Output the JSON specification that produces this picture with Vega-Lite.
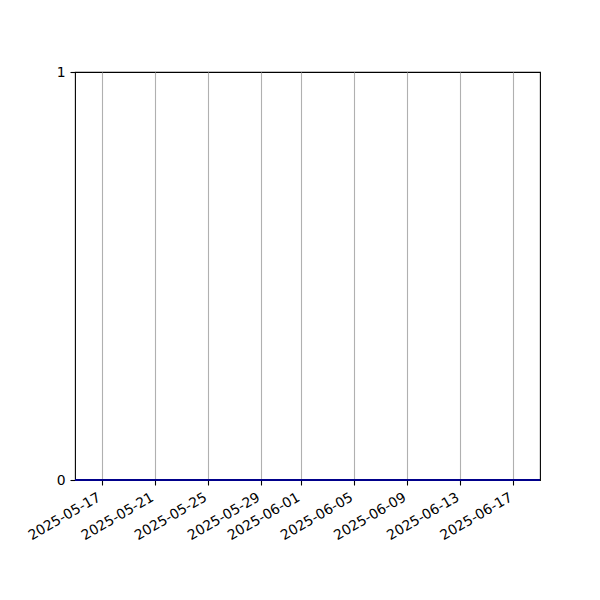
{
  "$schema": "https://vega.github.io/schema/vega-lite/v6.json",
  "width": 465,
  "height": 408,
  "autosize": {"type": "none"},
  "padding": {"left": 75, "top": 72, "right": 60, "bottom": 120},
  "background": "white",
  "data": {
    "values": [
      {"date": "2025-05-15", "value": 0}, {"date": "2025-05-16", "value": 0},
      {"date": "2025-05-17", "value": 0}, {"date": "2025-05-18", "value": 0},
      {"date": "2025-05-19", "value": 0}, {"date": "2025-05-20", "value": 0},
      {"date": "2025-05-21", "value": 0}, {"date": "2025-05-22", "value": 0},
      {"date": "2025-05-23", "value": 0}, {"date": "2025-05-24", "value": 0},
      {"date": "2025-05-25", "value": 0}, {"date": "2025-05-26", "value": 0},
      {"date": "2025-05-27", "value": 0}, {"date": "2025-05-28", "value": 0},
      {"date": "2025-05-29", "value": 0}, {"date": "2025-05-30", "value": 0},
      {"date": "2025-05-31", "value": 0}, {"date": "2025-06-01", "value": 0},
      {"date": "2025-06-02", "value": 0}, {"date": "2025-06-03", "value": 0},
      {"date": "2025-06-04", "value": 0}, {"date": "2025-06-05", "value": 0},
      {"date": "2025-06-06", "value": 0}, {"date": "2025-06-07", "value": 0},
      {"date": "2025-06-08", "value": 0}, {"date": "2025-06-09", "value": 0},
      {"date": "2025-06-10", "value": 0}, {"date": "2025-06-11", "value": 0},
      {"date": "2025-06-12", "value": 0}, {"date": "2025-06-13", "value": 0},
      {"date": "2025-06-14", "value": 0}, {"date": "2025-06-15", "value": 0},
      {"date": "2025-06-16", "value": 0}, {"date": "2025-06-17", "value": 0},
      {"date": "2025-06-18", "value": 0}, {"date": "2025-06-19", "value": 0}
    ]
  },
  "mark": {"type": "line", "color": "#00008b", "strokeWidth": 2, "clip": false},
  "encoding": {
    "x": {
      "field": "date",
      "type": "temporal",
      "scale": {"type": "utc", "domain": ["2025-05-15", "2025-06-19"], "nice": false},
      "axis": {
        "title": null,
        "values": ["2025-05-17", "2025-05-21", "2025-05-25", "2025-05-29", "2025-06-01", "2025-06-05", "2025-06-09", "2025-06-13", "2025-06-17"],
        "labelExpr": "utcFormat(datum.value, '%Y-%m-%d')",
        "labelOverlap": false,
        "labelAngle": -30,
        "labelAlign": "right",
        "labelBaseline": "top",
        "labelOffset": -6,
        "grid": true,
        "gridColor": "#b0b0b0",
        "gridWidth": 1.1,
        "gridOpacity": 1
      }
    },
    "y": {
      "field": "value",
      "type": "quantitative",
      "scale": {"domain": [0, 1], "nice": false, "zero": false},
      "axis": {"title": null, "values": [0, 1], "grid": false, "format": "d"}
    }
  },
  "config": {
    "font": "DejaVu Sans",
    "view": {"stroke": "black", "strokeWidth": 1.1},
    "axis": {
      "domain": false,
      "ticks": true,
      "tickColor": "black",
      "tickSize": 5,
      "tickWidth": 1.1,
      "labelPadding": 5,
      "labelFont": "DejaVu Sans",
      "labelFontSize": 13.9,
      "labelColor": "black"
    }
  }
}
